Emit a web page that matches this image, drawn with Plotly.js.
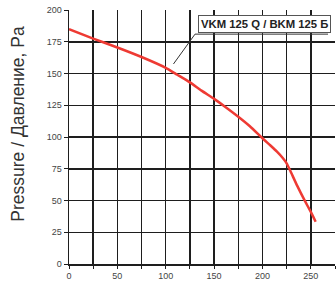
<!DOCTYPE html>
<html><head><meta charset="utf-8">
<script src="https://cdn.plot.ly/plotly-3.0.1.min.js"></script>
<style>html,body{margin:0;padding:0;background:#fff}#c{width:336px;height:283px}</style>
</head><body><div id="c"></div>
<script>
const airflow = [0, 25, 50, 75, 100, 112, 125, 137, 150, 162, 175, 187, 200, 208, 215, 221, 225, 229, 236, 244, 250, 255];
const pressure = [185, 177.5, 170.5, 163, 154.5, 149, 143, 136.5, 130, 123.5, 116, 108.5, 99, 93.5, 88.5, 83.5, 79.3, 73, 61.5, 49.5, 41, 33.3];
const xTicks = [0, 25, 50, 75, 100, 125, 150, 175, 200, 225, 250, 275];
const xLabels = ['0', '', '50', '', '100', '', '150', '', '200', '', '250', ''];
const yTicks = [0, 25, 50, 75, 100, 125, 150, 175, 200];
const seriesName = 'VKM 125 Q / BKM 125 Б';
const yTitle = 'Pressure / Давление, Pa';

const trace = {
  x: airflow, y: pressure, type: 'scatter', mode: 'lines',
  line: {color: '#ee3a33', width: 2.5, shape: 'spline', smoothing: 0.5},
  hoverinfo: 'skip', showlegend: false
};
const layout = {
  width: 336, height: 283,
  margin: {l: 69, r: 1, t: 10, b: 19},
  paper_bgcolor: '#fff', plot_bgcolor: '#fff',
  font: {family: 'Liberation Sans, Arial, sans-serif', size: 9, color: '#333'},
  xaxis: {
    range: [0, 275], tickvals: xTicks, ticktext: xLabels,
    showgrid: true, gridcolor: '#1e1e1e', gridwidth: 1.5,
    zeroline: false, showline: true, linecolor: '#1e1e1e', linewidth: 1.5,
    ticks: 'outside', ticklen: 3, tickcolor: '#1e1e1e', tickwidth: 1,
    tickfont: {size: 9, color: '#444'}, fixedrange: true
  },
  yaxis: {
    range: [0, 200], tickvals: yTicks, ticktext: yTicks.map(String),
    showgrid: true, gridcolor: '#1e1e1e', gridwidth: 1.5,
    zeroline: false, showline: true, linecolor: '#1e1e1e', linewidth: 1.5,
    ticks: 'outside', ticklen: 4, tickcolor: '#1e1e1e', tickwidth: 1,
    tickfont: {size: 9, color: '#444'}, fixedrange: true
  },
  shapes: [
    {type: 'line', xref: 'x', yref: 'y', x0: 130.3, y0: 181, x1: 267.8, y1: 181,
     line: {color: '#333', width: 1}},
    {type: 'line', xref: 'x', yref: 'y', x0: 130.3, y0: 181, x1: 108, y1: 157.5,
     line: {color: '#333', width: 1}}
  ],
  annotations: [
    {text: '<b>' + seriesName + '</b>', xref: 'x', yref: 'y', x: 201.8, y: 188.6,
     showarrow: false, font: {family: 'Liberation Sans, Arial, sans-serif', size: 11.3, color: '#222'},
     bgcolor: '#fff', bordercolor: '#555', borderwidth: 1, borderpad: 2},
    {text: yTitle, xref: 'paper', yref: 'paper', x: -0.195, y: 0.553,
     xanchor: 'center', yanchor: 'middle', textangle: -90, showarrow: false,
     font: {family: 'Liberation Sans, Arial, sans-serif', size: 17.5, color: '#333'}}
  ]
};
Plotly.newPlot('c', [trace], layout, {staticPlot: true, displayModeBar: false});
</script></body></html>
